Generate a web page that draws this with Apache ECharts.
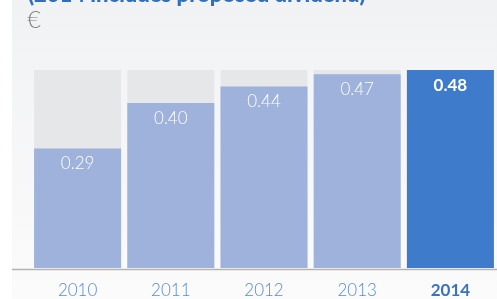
<!DOCTYPE html>
<html><head><meta charset="utf-8">
<script src="https://cdn.jsdelivr.net/npm/echarts@6/dist/echarts.min.js"></script>
<style>html,body{margin:0;padding:0;background:#fff}#c{width:497px;height:299px}</style>
</head><body><div id="c"></div>
<script>
const categories = ['2010', '2011', '2012', '2013', '2014'];
const values = [0.29, 0.40, 0.44, 0.47, 0.48];
const labels = ['0.29', '0.40', '0.44', '0.47', '0.48'];
const highlightIndex = 4;
const titleText = '(2014 includes proposed dividend)';
const unitText = '€';

const chart = echarts.init(document.getElementById('c'));
const FONT = 'Lato';
chart.setOption({
  animation: false,
  backgroundColor: '#ffffff',
  graphic: [
    { type: 'rect', silent: true, z: -10, shape: { x: 12, y: 0, width: 485, height: 299 },
      style: { fill: { type: 'linear', x: 0, y: 0, x2: 0, y2: 1, colorStops: [
        { offset: 0, color: '#f1f2f4' }, { offset: 1, color: '#fbfbfb' } ] } } },
    { type: 'text', left: 28, top: -16, z: 10, style: { text: titleText, font: '900 22px ' + FONT, fill: '#2f6fc0' } },
    { type: 'text', left: 27, top: 8, z: 10, style: { text: unitText, font: '300 24px ' + FONT, fill: '#7e7e7e' } },
    { type: 'line', z: 10, shape: { x1: 12, y1: 269.5, x2: 497, y2: 269.5 }, style: { stroke: '#b4b4b4', lineWidth: 1.5 } }
  ],
  grid: { left: 31, right: -1, top: 70, bottom: 30 },
  xAxis: {
    type: 'category', data: categories,
    axisLine: { show: false }, axisTick: { show: false },
    axisLabel: {
      margin: 14, fontFamily: FONT, fontSize: 17, color: '#5a8ad0', fontWeight: 300,
      formatter: (v, i) => i === highlightIndex ? '{b|' + v + '}' : v,
      rich: { b: { fontFamily: FONT, fontSize: 17, fontWeight: 'bold', color: '#3a72c0' } }
    }
  },
  yAxis: { type: 'value', min: 0, max: 0.48, show: false, splitLine: { show: false } },
  series: [{
    type: 'bar', barWidth: 87,
    showBackground: true, backgroundStyle: { color: '#e6e7e9' },
    data: values.map((v, i) => ({
      value: v,
      itemStyle: { color: i === highlightIndex ? '#3f7bcb' : '#9fb2db' },
      label: { fontWeight: i === highlightIndex ? 'bold' : 300 }
    })),
    label: {
      show: true, position: 'insideTop', distance: 7, color: '#ffffff',
      fontFamily: FONT, fontSize: 17,
      formatter: p => labels[p.dataIndex]
    }
  }]
});
</script></body></html>
